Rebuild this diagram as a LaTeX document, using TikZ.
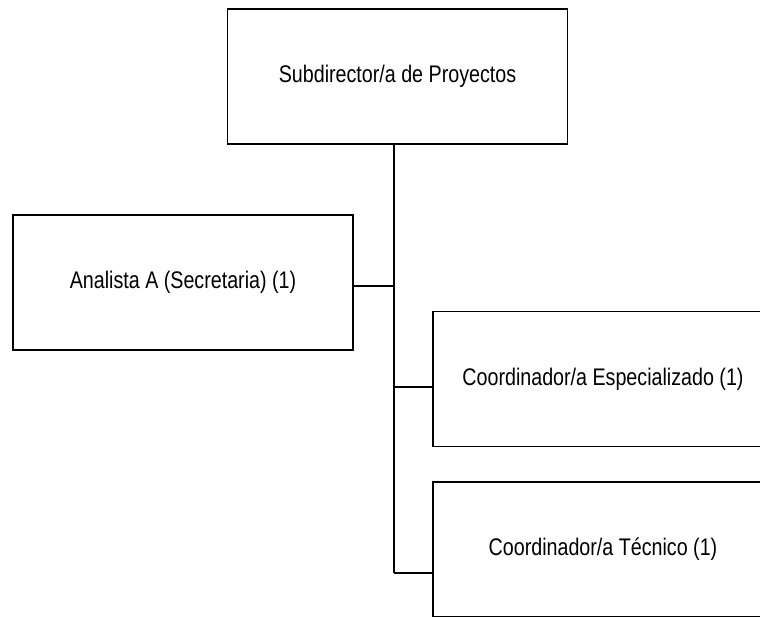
\documentclass[tikz,border=0pt]{standalone}
\usepackage{fontspec}
\setmainfont{Liberation Sans}[FakeStretch=0.82]
\begin{document}
\begin{tikzpicture}[x=1pt,y=-1pt,
  box/.style={draw,line width=1.5pt,minimum width=340pt,minimum height=135pt,inner sep=0pt,font=\fontsize{24}{28}\selectfont},
  conn/.style={line width=1.5pt}]
\useasboundingbox (0,0) rectangle (760,616);
\clip (0,0) rectangle (760,616);
\node[box] (sub) at (397.5,76.5) {Subdirector/a de Proyectos};
\node[box] (ana) at (183,282.5) {Analista A (Secretaria) (1)};
\node[box] (esp) at (603,379) {Coordinador/a Especializado (1)};
\node[box] (tec) at (603,549.5) {Coordinador/a Técnico (1)};
\coordinate (v) at (394,573);
\coordinate (ja) at (394,286);
\coordinate (j1) at (394,387);
\draw[conn] (sub.south -| v) -- (v);
\draw[conn] (ana.east |- ja) -- (ja);
\draw[conn] (j1) -- (esp.west |- j1);
\draw[conn] (v) -- (tec.west |- v);
\end{tikzpicture}
\end{document}
